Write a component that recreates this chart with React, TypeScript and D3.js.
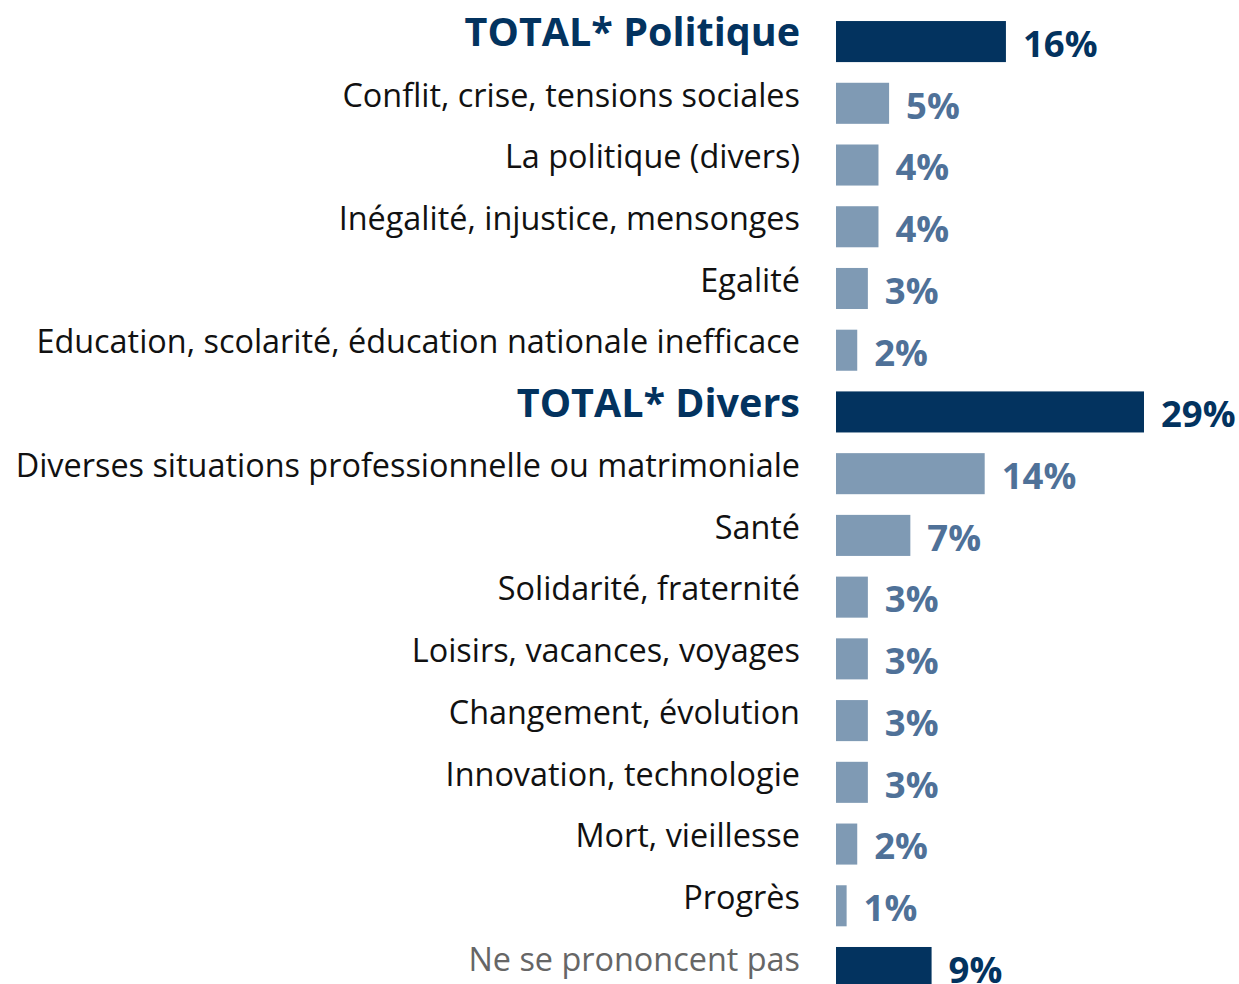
import React from "react";
import * as d3 from "d3";

const categories = [
  "TOTAL* Politique",
  "Conflit, crise, tensions sociales",
  "La politique (divers)",
  "Inégalité, injustice, mensonges",
  "Egalité",
  "Education, scolarité, éducation nationale inefficace",
  "TOTAL* Divers",
  "Diverses situations professionnelle ou matrimoniale",
  "Santé",
  "Solidarité, fraternité",
  "Loisirs, vacances, voyages",
  "Changement, évolution",
  "Innovation, technologie",
  "Mort, vieillesse",
  "Progrès",
  "Ne se prononcent pas",
];
const values = [16, 5, 4, 4, 3, 2, 29, 14, 7, 3, 3, 3, 3, 2, 1, 9];
// row kind: total, item, none (ne se prononcent pas)
const kinds = ["total", "item", "item", "item", "item", "item", "total", "item", "item", "item", "item", "item", "item", "item", "item", "nsp"];

const W = 1239;
const H = 984;
const barX = 836;
const labelX = 800;

const DARK = "#03335f";
const LIGHT_BAR = "#7f9ab4";
const LIGHT_TXT = "#4f7198";

export default function App() {
  const y = d3
    .scaleBand<string>()
    .domain(categories)
    .range([10.7, 10.7 + 16 * 61.73])
    .paddingInner(0.335)
    .paddingOuter(0.1675);

  const x = d3.scaleLinear().domain([0, 29]).range([0, 308]);

  return (
    <svg
      width={W}
      height={H}
      style={{ position: "absolute", left: 0, top: 0, background: "#fff" }}
      fontFamily="'Open Sans', sans-serif"
    >
      {categories.map((c, i) => {
        const k = kinds[i];
        const yy = y(c)!;
        const cy = yy + y.bandwidth() / 2;
        const bw = x(values[i]);
        const isLight = k === "item";
        return (
          <g key={c}>
            <text
              x={labelX}
              y={cy}
              dy={k === "total" ? "0.12em" : "0.1em"}
              textAnchor="end"
              fontSize={k === "total" ? 39.5 : 32.4}
              fontWeight={k === "total" ? 700 : 400}
              fill={k === "total" ? DARK : k === "nsp" ? "#666666" : "#111"}
            >
              {c}
            </text>
            <rect x={barX} y={yy} width={bw} height={y.bandwidth()} fill={isLight ? LIGHT_BAR : DARK} />
            <text
              x={barX + bw + 17}
              y={cy}
              dy="0.42em"
              fontSize={36.5}
              fontWeight={700}
              fill={isLight ? LIGHT_TXT : DARK}
            >
              {values[i]}%
            </text>
          </g>
        );
      })}
    </svg>
  );
}
